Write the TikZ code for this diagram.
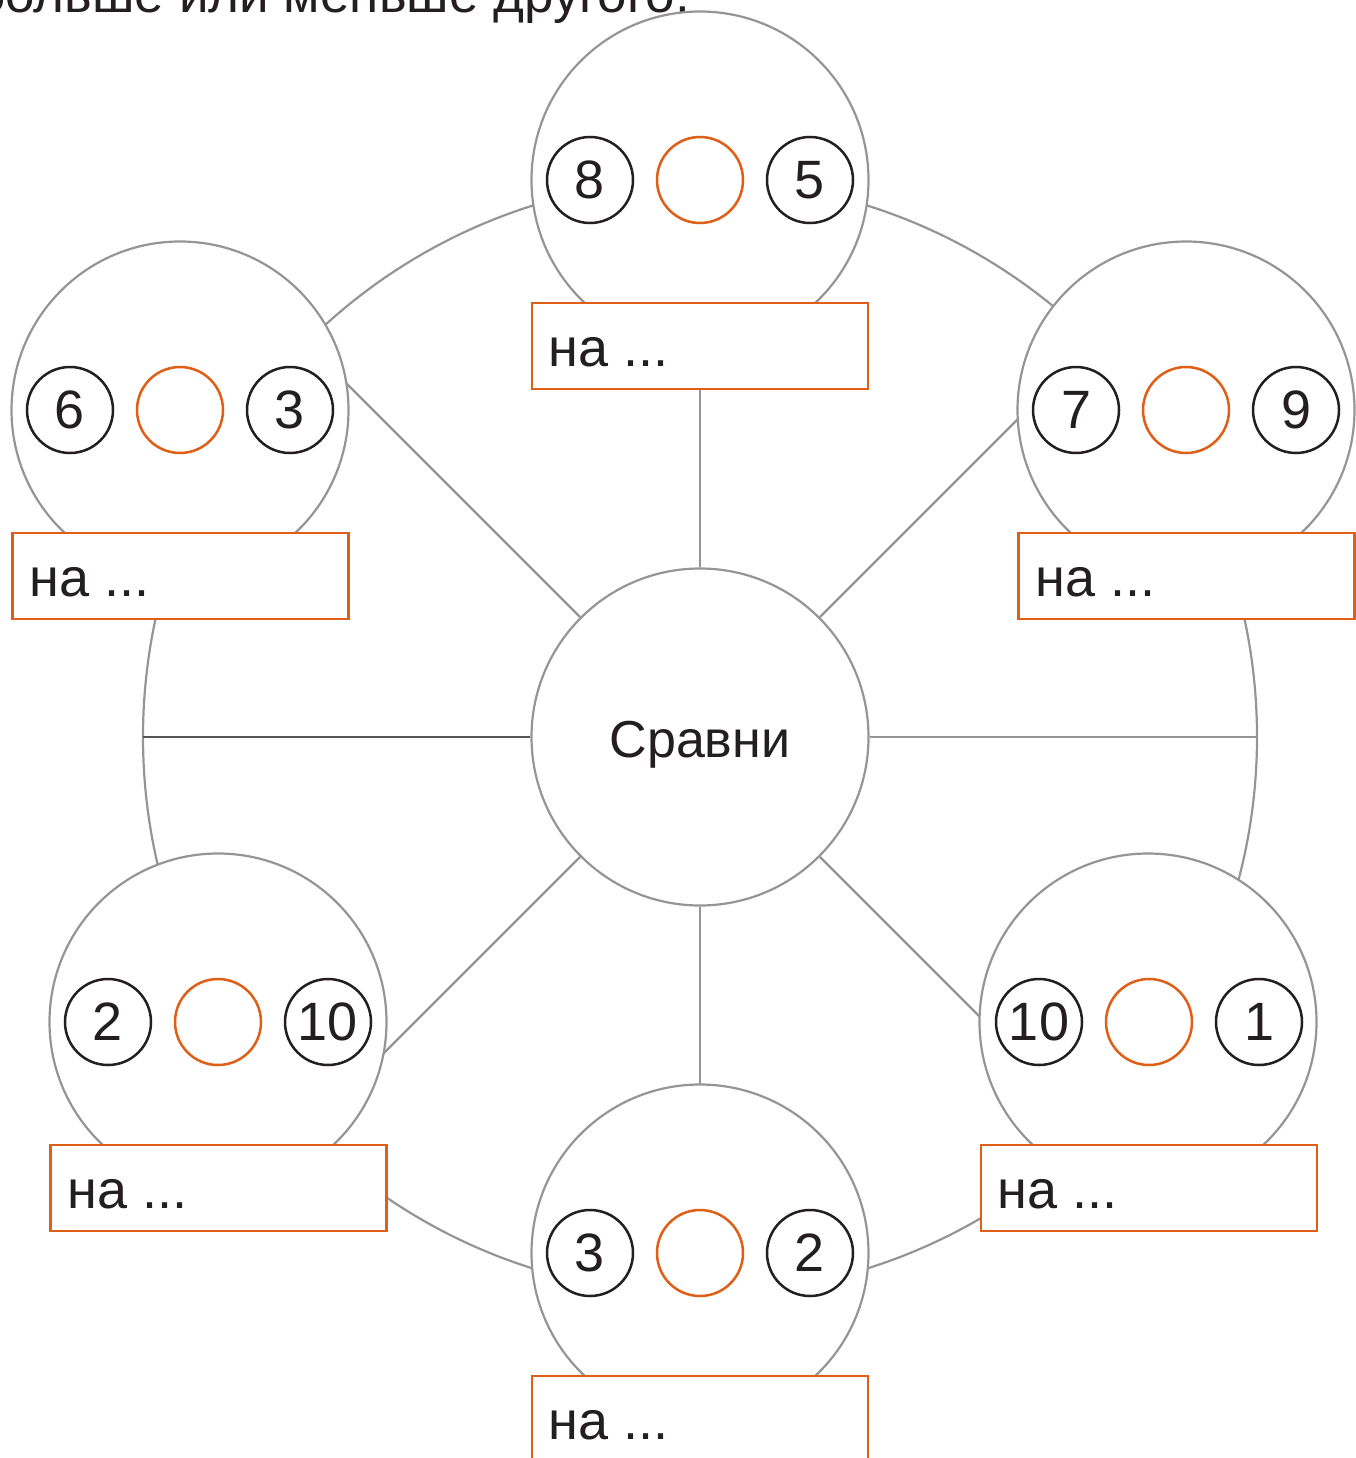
\documentclass[tikz,border=0pt]{standalone}
\usepackage{fontspec}
\setmainfont{Liberation Sans}
\usetikzlibrary{backgrounds}
\definecolor{ringc}{HTML}{959595}
\definecolor{orgc}{HTML}{DF5F17}
\definecolor{inkc}{HTML}{231F20}
\definecolor{darkc}{HTML}{555555}
\begin{document}
\begin{tikzpicture}[x=1pt,y=-1pt,
  sat/.style={circle, draw=ringc, line width=2.2pt, fill=white, minimum size=337pt, inner sep=0pt},
  num/.style={circle, draw=inkc, line width=2.5pt, fill=white, minimum size=86pt, inner sep=0pt, font=\fontsize{54}{60}\selectfont, text=inkc},
  ans/.style={circle, draw=orgc, line width=2.5pt, fill=white, minimum size=86pt, inner sep=0pt},
  boxc/.style={draw=orgc, line width=2.5pt, fill=white, minimum width=336pt, minimum height=86pt, inner sep=0pt},
  lbl/.style={anchor=base west, inner sep=0pt, font=\fontsize{54}{64}\selectfont, text=inkc},
  link/.style={draw=ringc, line width=2.2pt}]
\clip (0,0) rectangle (1356,1458);
\useasboundingbox (0,0) rectangle (1356,1458);

% title (cut off at the top)
\node[anchor=base east, inner sep=0pt, font=\fontsize{53}{60}\selectfont, text=inkc] (title) at (690,13) {больше или меньше другого.};

% centre
\node[sat] (c) at (700,737) {};
\node[anchor=base, inner sep=0pt, font=\fontsize{52}{60}\selectfont, text=inkc] (ct) at (700,757) {Сравни};

% ring coordinates
\coordinate (r0) at (1257,737);
\coordinate (r45) at (1094,343);
\coordinate (r90) at (700,180);
\coordinate (r135) at (306,343);
\coordinate (r180) at (143,737);
\coordinate (r225) at (306,1131);
\coordinate (r270) at (700,1294);
\coordinate (r315) at (1094,1131);

% satellites
\node[sat] (s1) at (700,180) {};
\node[sat] (s2) at (180,410) {};
\node[sat] (s3) at (1186,410) {};
\node[sat] (s4) at (218,1022) {};
\node[sat] (s5) at (1148,1022) {};
\node[sat] (s6) at (700,1253) {};

% number circles
\node[num] (a1) at (590,180) {8};
\node[ans] (m1) at (700,180) {};
\node[num] (b1) at (810,180) {5};

\node[num] (a2) at (70,410) {6};
\node[ans] (m2) at (180,410) {};
\node[num] (b2) at (290,410) {3};

\node[num] (a3) at (1076,410) {7};
\node[ans] (m3) at (1186,410) {};
\node[num] (b3) at (1296,410) {9};

\node[num] (a4) at (108,1022) {2};
\node[ans] (m4) at (218,1022) {};
\node[num] (b4) at (328,1022) {10};

\node[num] (a5) at (1039,1022) {10};
\node[ans] (m5) at (1149,1022) {};
\node[num] (b5) at (1259,1022) {1};

\node[num] (a6) at (590,1253) {3};
\node[ans] (m6) at (700,1253) {};
\node[num] (b6) at (810,1253) {2};

% answer boxes
\node[boxc] (k1) at (700,346) {};
\node[boxc] (k2) at (180.5,576) {};
\node[boxc] (k3) at (1186.5,576) {};
\node[boxc] (k4) at (218.5,1188) {};
\node[boxc] (k5) at (1149,1188) {};
\node[boxc] (k6) at (700,1419) {};

\node[lbl] (t1) at ([xshift=18pt,yshift=-65pt]k1.north west) {на ...};
\node[lbl] (t2) at ([xshift=18pt,yshift=-65pt]k2.north west) {на ...};
\node[lbl] (t3) at ([xshift=18pt,yshift=-65pt]k3.north west) {на ...};
\node[lbl] (t4) at ([xshift=18pt,yshift=-65pt]k4.north west) {на ...};
\node[lbl] (t5) at ([xshift=18pt,yshift=-65pt]k5.north west) {на ...};
\node[lbl] (t6) at ([xshift=18pt,yshift=-65pt]k6.north west) {на ...};

\begin{scope}[on background layer]
  \draw[link] (700,737) circle[radius=557];
  \draw[link] (c) -- (r0);
  \draw[link] (c) -- (r45);
  \draw[link] (c) -- (r90);
  \draw[link] (c) -- (r135);
  \draw[draw=darkc, line width=2.6pt] (c) -- (r180);
  \draw[link] (c) -- (r225);
  \draw[link] (c) -- (r270);
  \draw[link] (c) -- (r315);
\end{scope}
\end{tikzpicture}
\end{document}
